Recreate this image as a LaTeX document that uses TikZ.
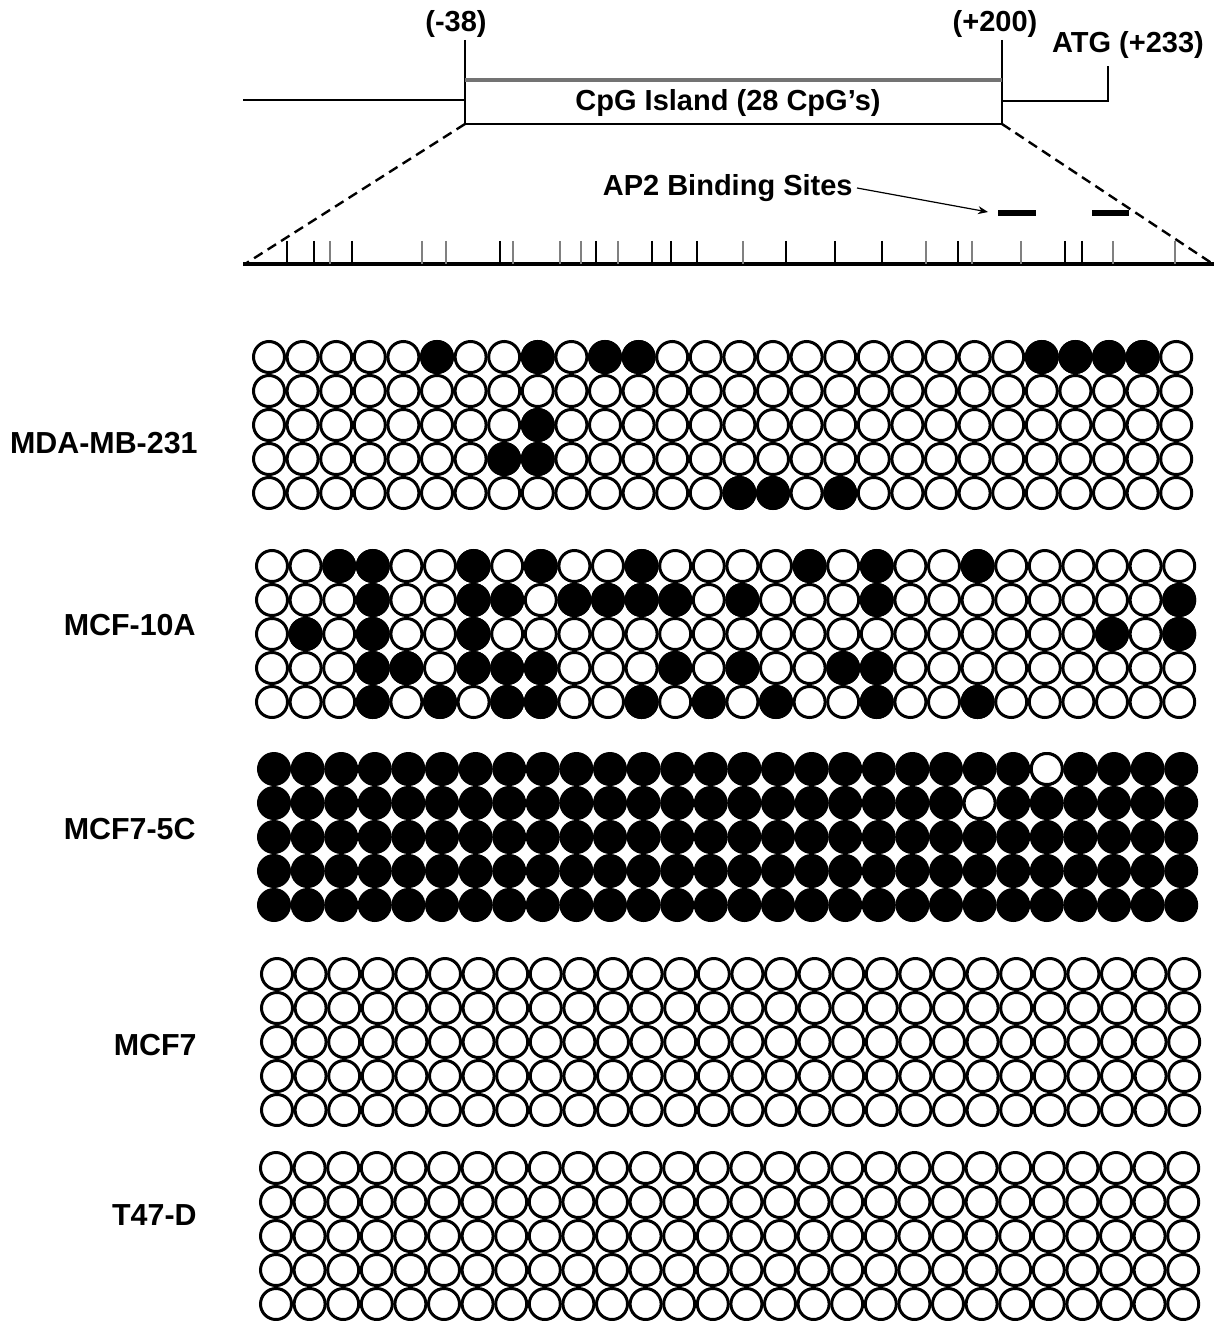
\documentclass[tikz,border=0pt]{standalone}
\usepackage{fontspec}
\setmainfont{Liberation Sans}
\usetikzlibrary{arrows.meta}
\definecolor{tickgray}{gray}{0.5}
\tikzset{
  cpg/.style={draw=black, line width=1.5pt},
  lbl/.style={font=\fontsize{14.5}{17}\selectfont\bfseries, inner sep=0pt},
  rowlbl/.style={lbl, font=\fontsize{15.2}{18}\selectfont\bfseries, anchor=east},
  cpgtick/.style={line width=1pt},
  zoomline/.style={dash pattern=on 5pt off 3pt, line width=1.2pt},
  apsite/.style={line width=2.6pt},
  ap2arrow/.style={line width=0.6pt, -{Stealth[length=5pt, width=4pt]}}
}
% grid of 5 clones x 28 CpG sites, #1/#2 = centre of the first site
\newcommand{\cpggrid}[3]{
    \foreach \r in {0,...,4} {
        \foreach \c in {0,...,27} {
            \filldraw[cpg, fill=#3] (#1+\c*33.6, #2+\r*34) circle[radius=7.75pt];
        }
    }
}
% sites that differ from the rest of the grid (row/column)
\newcommand{\cpgswap}[4]{
    \foreach \r/\c in {#4} {
        \filldraw[cpg, fill=#3] (#1+\c*33.6, #2+\r*34) circle[radius=7.75pt];
    }
}

\begin{document}
\begin{tikzpicture}[x=0.5pt, y=-0.5pt]
    \useasboundingbox (0,0) rectangle (1224,1321);

    % ==========================================
    % 1. PROMOTER AND CpG ISLAND
    % ==========================================
    \draw[line width=0.8pt] (243,100) -- (465,100);
    \draw[line width=0.8pt] (465,40) -- (465,124) -- (1002,124);
    \draw[line width=0.8pt] (1002,40) -- (1002,124);
    \draw[line width=1.6pt, black!55] (465,80) -- (1002,80);
    \draw[line width=0.8pt] (1002,101) -- (1108,101) -- (1108,66);

    \node[lbl] (island) at (728,103) {CpG Island (28 CpG’s)};
    \node[lbl] (m38) at (456,24) {(-38)};
    \node[lbl] (p200) at (995,24) {(+200)};
    \node[lbl] (atg) at (1128,45) {ATG (+233)};

    % --- Zoom onto the island ---
    \draw[zoomline] (465,124) -- (245,264);
    \draw[zoomline] (1002,124) -- (1213,264);
    \draw[line width=1.6pt] (243,264) -- (1214,264);

    % CpG positions
    \foreach \x/\col in {287/black, 314/black, 330/tickgray, 352/black,
        422/tickgray, 446/tickgray, 500/black, 513/tickgray, 560/tickgray,
        581/tickgray, 596/black, 618/tickgray, 652/black, 671/black, 697/black,
        743/tickgray, 786/black, 835/black, 882/black, 926/tickgray, 958/black,
        972/tickgray, 1021/tickgray, 1065/black, 1082/black, 1113/tickgray,
        1175/tickgray} {
        \draw[cpgtick, draw=\col] (\x,241) -- (\x,264);
    }

    % --- AP2 sites ---
    \draw[apsite] (998,213) -- (1036,213);
    \draw[apsite] (1092,213) -- (1129,213);
    \coordinate (site1) at (988,212);
    \node[lbl, anchor=east] (ap2) at (853,188) {AP2 Binding Sites};
    \draw[ap2arrow] ([xshift=2pt]ap2.east) -- (site1);

    % ==========================================
    % 2. METHYLATION GRIDS
    % ==========================================

    % --- MDA-MB-231 ---
    \node[rowlbl] (mda) at (198,443) {MDA-MB-231};
    \cpggrid{269}{357}{white}
    \cpgswap{269}{357}{black}{0/5, 0/8, 0/10, 0/11, 0/23, 0/24, 0/25, 0/26,
        2/8, 3/7, 3/8, 4/14, 4/15, 4/17}

    % --- MCF-10A ---
    \node[rowlbl] (mcf10a) at (196,625) {MCF-10A};
    \cpggrid{272}{566}{white}
    \cpgswap{272}{566}{black}{0/2, 0/3, 0/6, 0/8, 0/11, 0/16, 0/18, 0/21,
        1/3, 1/6, 1/7, 1/9, 1/10, 1/11, 1/12, 1/14, 1/18, 1/27,
        2/1, 2/3, 2/6, 2/25, 2/27,
        3/3, 3/4, 3/6, 3/7, 3/8, 3/12, 3/14, 3/17, 3/18,
        4/3, 4/5, 4/7, 4/8, 4/11, 4/13, 4/15, 4/18, 4/21}

    % --- MCF7-5C ---
    \node[rowlbl] (mcf5c) at (196,829) {MCF7-5C};
    \cpggrid{274}{769}{black}
    \cpgswap{274}{769}{white}{0/23, 1/21}

    % --- MCF7 ---
    \node[rowlbl] (mcf7) at (197,1045) {MCF7};
    \cpggrid{277}{974}{white}

    % --- T47-D ---
    \node[rowlbl] (t47d) at (197,1215) {T47-D};
    \cpggrid{276}{1168}{white}

\end{tikzpicture}
\end{document}
